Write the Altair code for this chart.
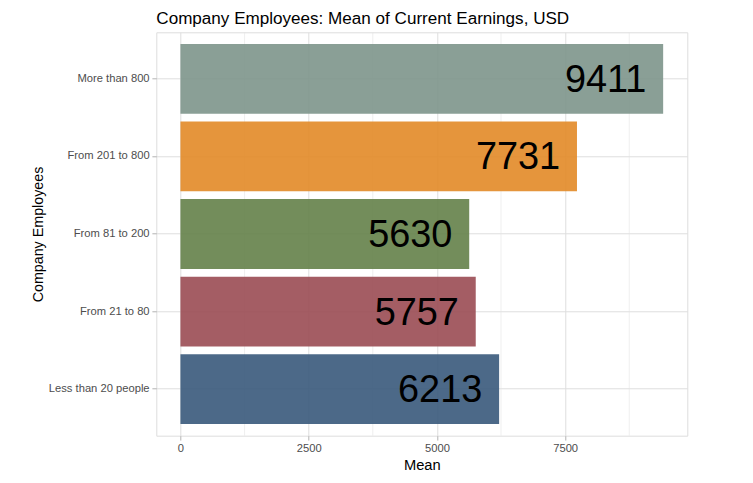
import altair as alt
import pandas as pd

categories = ["More than 800", "From 201 to 800", "From 81 to 200", "From 21 to 80", "Less than 20 people"]
means = [9411, 7731, 5630, 5757, 6213]
bar_colors = ["#7D958B", "#E28A27", "#648149", "#9A4B53", "#39597B"]
major_ticks = [0, 2500, 5000, 7500]
minor_ticks = [1250, 3750, 6250, 8750]

df = pd.DataFrame({"group": categories, "mean": means, "label": [str(v) for v in means]})
minor_df = pd.DataFrame({"v": minor_ticks})

FONT = "Liberation Sans"
xdom = [-470.55, 9881.55]
xscale = alt.Scale(domain=xdom, nice=False, zero=False)

minor = alt.Chart(minor_df).mark_rule(color="#E4E4E4", strokeWidth=0.6).encode(
    x=alt.X("v:Q", scale=xscale)
)

base = alt.Chart(df).encode(
    y=alt.Y(
        "group:N",
        sort=categories,
        scale=alt.Scale(paddingInner=0.1, paddingOuter=0.15),
        axis=alt.Axis(
            title="Company Employees",
            titleFont=FONT, titleFontSize=14.3, titleFontWeight="normal", titleColor="#000000",
            titleAngle=-90, titleBaseline="alphabetic", titleX=-114.3, titleY=201.7,
            labelFont=FONT, labelFontSize=11.2, labelColor="#4D4D4D", labelPadding=2.8,
            tickSize=4.4, tickColor="#B3B3B3", tickWidth=1,
            domain=False, grid=True, gridColor="#DEDEDE", gridWidth=1, bandPosition=0.5,
        ),
    ),
)

bars = base.mark_bar(opacity=0.9).encode(
    x=alt.X(
        "mean:Q",
        scale=xscale,
        axis=alt.Axis(
            title="Mean", values=major_ticks, format="d",
            titleFont=FONT, titleFontSize=14.7, titleFontWeight="normal", titleColor="#000000",
            titleBaseline="alphabetic", titleY=34.3,
            labelFont=FONT, labelFontSize=11.2, labelColor="#4D4D4D", labelPadding=2.8,
            tickSize=4.4, tickColor="#B3B3B3", tickWidth=1,
            domain=False, grid=True, gridColor="#DEDEDE", gridWidth=1,
        ),
    ),
    color=alt.Color("group:N", scale=alt.Scale(domain=categories, range=bar_colors), legend=None),
)

texts = base.mark_text(
    align="right", baseline="middle", dx=-16.8, dy=2, fontSize=37.9, font=FONT, color="#000000"
).encode(
    x=alt.X("mean:Q", scale=xscale),
    text="label:N",
)

chart = alt.layer(minor, bars, texts).properties(
    width=531,
    height=403.4,
    autosize=alt.AutoSizeParams(type="none"),
    padding={"left": 148.3, "top": 24.3, "right": 49, "bottom": 39},
    title=alt.Title(
        "Company Employees: Mean of Current Earnings, USD",
        anchor="start", frame="group", font=FONT, fontSize=17.1, fontWeight="normal",
        color="#000000", baseline="alphabetic", offset=9.6, dy=18.4,
    ),
).configure_view(stroke="#B3B3B3", strokeWidth=1).configure(background="#FFFFFF")

chart.save("out.html", embed_options={"renderer": "svg", "actions": False})
